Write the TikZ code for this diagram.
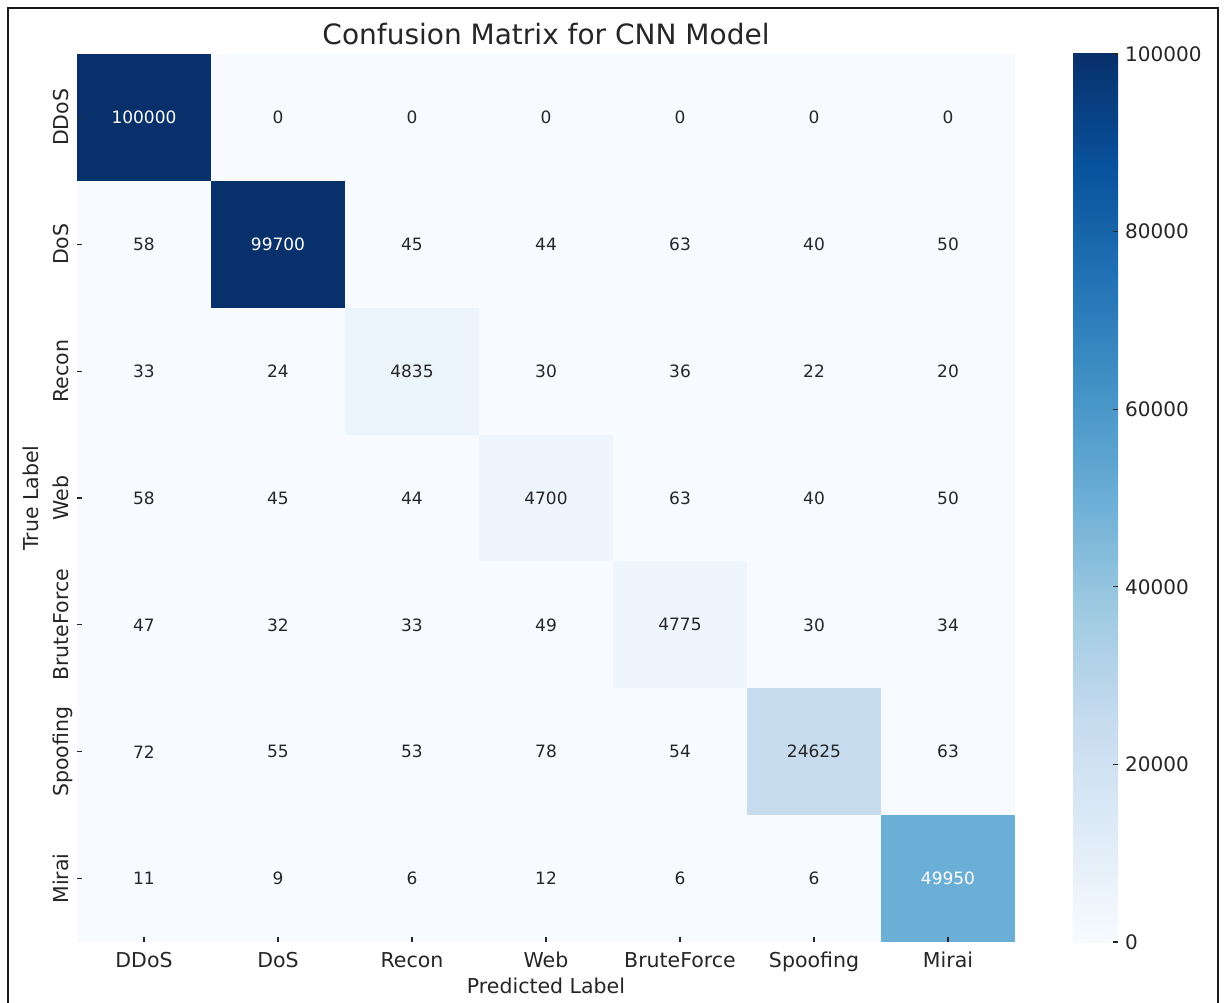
\documentclass[tikz,border=0pt]{standalone}
\usepackage{fontspec}
\setmainfont{DejaVu Sans}
\usetikzlibrary{calc}

% Blues colour map stops
\definecolor{bl0}{RGB}{247,251,255}
\definecolor{bl1}{RGB}{222,235,247}
\definecolor{bl2}{RGB}{198,219,239}
\definecolor{bl3}{RGB}{158,202,225}
\definecolor{bl4}{RGB}{107,174,214}
\definecolor{bl5}{RGB}{66,146,198}
\definecolor{bl6}{RGB}{33,113,181}
\definecolor{bl7}{RGB}{8,81,156}
\definecolor{bl8}{RGB}{8,48,107}
% cell colours
\definecolor{cL}{RGB}{247,251,255}
\definecolor{cA}{RGB}{237,245,252}
\definecolor{cB}{RGB}{238,245,252}
\definecolor{cS}{RGB}{199,220,239}
\definecolor{cM}{RGB}{107,174,214}
\definecolor{cD}{RGB}{8,49,108}
\definecolor{cX}{RGB}{8,48,107}
\definecolor{ink}{RGB}{38,38,38}
\definecolor{frame}{RGB}{26,26,26}

\begin{document}
\begin{tikzpicture}[x=1pt,y=-1pt,
  cell/.style={minimum width=134pt,minimum height=126.86pt,inner sep=0pt,
               font=\fontsize{17}{20}\selectfont},
  ticklab/.style={text=ink,inner sep=0pt,font=\fontsize{20.5}{24}\selectfont},
  cbarlab/.style={text=ink,inner sep=0pt,anchor=base west,font=\fontsize{20}{24}\selectfont},
  axlab/.style={text=ink,inner sep=0pt,font=\fontsize{20.5}{24}\selectfont},
  tickmark/.style={draw=ink,line width=1.2pt}]
\useasboundingbox (0,0) rectangle (1224,1003);
\fill[white] (0,0) rectangle (1224,1003);

% outer frame
\draw[frame,line width=1.4pt] (8,1003) -- (8,8);
\draw[frame,line width=2pt] (1218,8) -- (1218,1003);
\draw[frame,line width=2.6pt] (7,8) -- (1219,8);

% title
\node[text=ink,inner sep=0pt,anchor=base,font=\fontsize{28}{32}\selectfont] (title) at (546,45) {Confusion Matrix for CNN Model};

% matrix background
\fill[cL] (77,54) rectangle (1015,942);

% matrix cells: value/fill/text colour, row by row
\foreach \rowvals [count=\i from 0] in {
  {100000/cX/white,0/cL/ink,0/cL/ink,0/cL/ink,0/cL/ink,0/cL/ink,0/cL/ink},
  {58/cL/ink,99700/cD/white,45/cL/ink,44/cL/ink,63/cL/ink,40/cL/ink,50/cL/ink},
  {33/cL/ink,24/cL/ink,4835/cA/ink,30/cL/ink,36/cL/ink,22/cL/ink,20/cL/ink},
  {58/cL/ink,45/cL/ink,44/cL/ink,4700/cB/ink,63/cL/ink,40/cL/ink,50/cL/ink},
  {47/cL/ink,32/cL/ink,33/cL/ink,49/cL/ink,4775/cB/ink,30/cL/ink,34/cL/ink},
  {72/cL/ink,55/cL/ink,53/cL/ink,78/cL/ink,54/cL/ink,24625/cS/ink,63/cL/ink},
  {11/cL/ink,9/cL/ink,6/cL/ink,12/cL/ink,6/cL/ink,6/cL/ink,49950/cM/white}}
{
  \foreach \v/\fc/\tc [count=\j from 0] in \rowvals
  {
    \node[cell,fill=\fc,text=\tc] (cell-\i-\j) at ({77+134*(\j+0.5)},{54+126.857*(\i+0.5)}) {\v};
  }
}

% axis ticks and tick labels
\foreach \lab [count=\k from 0] in {DDoS,DoS,Recon,Web,BruteForce,Spoofing,Mirai}
{
  \draw[tickmark] ({77+134*(\k+0.5)},937) -- ({77+134*(\k+0.5)},942);
  \node[ticklab,anchor=base] (xlab-\k) at ({77+134*(\k+0.5)},967) {\lab};
  \draw[tickmark] (77,{54+126.857*(\k+0.5)}) -- (82,{54+126.857*(\k+0.5)});
  \node[ticklab,anchor=base,rotate=90] (ylab-\k) at (68,{54+126.857*(\k+0.5)}) {\lab};
}

% axis titles
\node[axlab,anchor=base] (xaxis) at (546,993) {Predicted Label};
\node[axlab,anchor=base,rotate=90] (yaxis) at (38,498) {True Label};

% colour bar
\foreach \a/\b [count=\k from 0] in {bl0/bl1,bl1/bl2,bl2/bl3,bl3/bl4,bl4/bl5,bl5/bl6,bl6/bl7,bl7/bl8}
{
  \shade[bottom color=\a,top color=\b] (1073,{942-111*\k+0.4}) rectangle (1118,{942-111*(\k+1)-0.4});
}
\foreach \t [count=\k from 0] in {0,20000,40000,60000,80000,100000}
{
  \draw[tickmark] (1113,{942-177.6*\k}) -- (1118,{942-177.6*\k});
  \node[cbarlab] (cbar-\k) at (1125,{942-177.6*\k+7.3}) {\t};
}
\end{tikzpicture}
\end{document}
